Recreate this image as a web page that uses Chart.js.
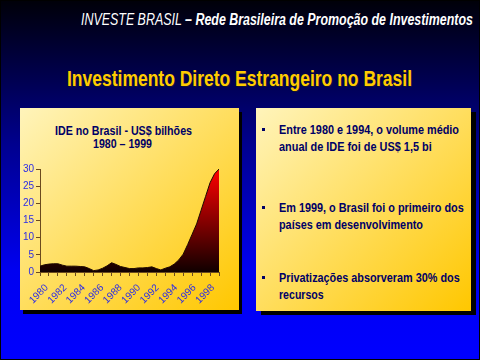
<!DOCTYPE html>
<html><head><meta charset="utf-8">
<script src="https://cdn.jsdelivr.net/npm/chart.js@4.4.1/dist/chart.umd.min.js"></script>
<style>
html,body{margin:0;padding:0;background:#000;}
#slide{position:absolute;left:0;top:0;width:480px;height:360px;overflow:hidden;
 background:linear-gradient(to bottom,#000008 0%,#000050 22%,#00008e 40%,#0000f0 75%,#0000ff 100%);}
#frame{position:absolute;left:0;top:0;width:480px;height:360px;box-sizing:border-box;border:1px solid #000;pointer-events:none;}
.t{position:absolute;white-space:nowrap;line-height:1;transform-origin:0 0;}
.panel{position:absolute;background:linear-gradient(to bottom right,#fff4bb,#ffc700);}
.bt{font-family:'Liberation Sans Narrow','Liberation Sans',Arial,sans-serif;font-weight:bold;font-size:13.5px;color:#000066;}
.bl{position:absolute;width:3px;height:3px;background:#000066;}
</style></head><body>
<div id="slide">
 <div class="t fit" data-w="392" style="left:81px;top:12px;font-family:'Liberation Sans',Arial,sans-serif;font-style:italic;font-size:16px;color:#fff">INVESTE BRASIL <b>– Rede Brasileira de Promoção de Investimentos</b></div>
 <div class="t fit" data-w="345" style="left:67px;top:68.5px;font-family:'Liberation Sans Narrow','Liberation Sans',Arial,sans-serif;font-weight:bold;font-size:21.5px;color:#ffcc00;text-shadow:1px 1px 0 #151530">Investimento Direto Estrangeiro no Brasil</div>

 <div class="panel" style="left:20px;top:108px;width:219px;height:202px;box-shadow:3px 4px 0 #000"></div>
 <div class="panel" style="left:256px;top:108px;width:215px;height:203px;box-shadow:5px 4px 0 #000"></div>

 <div class="t fit bt" data-w="137" data-cx="123.3" style="top:124.5px;font-size:12.5px;font-family:'Liberation Sans',Arial,sans-serif">IDE no Brasil - US$ bilhões</div>
 <div class="t fit bt" data-w="59" data-cx="122.2" style="top:137.8px;font-size:12.5px;font-family:'Liberation Sans',Arial,sans-serif">1980 – 1999</div>

 <canvas id="c" width="219" height="202" style="position:absolute;left:20px;top:108px;"></canvas>

 <div class="bl" style="left:262px;top:128px"></div>
 <div class="t fit bt" data-w="180" style="left:279px;top:123px">Entre 1980 e 1994, o volume médio</div>
 <div class="t fit bt" data-w="152.7" style="left:279px;top:139.7px">anual de IDE foi de US$ 1,5 bi</div>
 <div class="bl" style="left:262px;top:206px"></div>
 <div class="t fit bt" data-w="184.7" style="left:279px;top:201px">Em 1999, o Brasil foi o primeiro dos</div>
 <div class="t fit bt" data-w="144" style="left:279px;top:218px">países em desenvolvimento</div>
 <div class="bl" style="left:262px;top:276px"></div>
 <div class="t fit bt" data-w="180.7" style="left:279px;top:271px">Privatizações absorveram 30% dos</div>
 <div class="t fit bt" data-w="44.7" style="left:279px;top:288px">recursos</div>
</div>
<div id="frame"></div>
<script>
const years = [1980,1980.5,1981,1981.5,1982,1982.5,1983,1983.5,1984,1984.5,1985,1985.5,1986,1986.5,1987,1987.5,1988,1988.5,1989,1989.5,1990,1990.5,1991,1991.5,1992,1992.5,1993,1993.5,1994,1994.5,1995,1995.5,1996,1996.5,1997,1997.5,1998,1998.5,1999,1999.5,2000];
const ideValues = [1.7,2.1,2.3,2.4,2.4,2.0,1.7,1.7,1.7,1.6,1.5,1.0,0.4,0.6,1.1,1.8,2.7,2.2,1.6,1.3,1.0,1.0,1.2,1.2,1.3,1.5,1.0,0.6,1.1,1.5,2.3,3.5,5.2,8.0,11.0,14.0,18.0,22.0,26.0,28.6,30.0];
const tickYears = [1980,1981,1982,1983,1984,1985,1986,1987,1988,1989,1990,1991,1992,1993,1994,1995,1996,1997,1998,1999,2000];
const labelYears = [1980,1982,1984,1986,1988,1990,1992,1994,1996,1998];
const yTicks = [0,5,10,15,20,25,30];

document.querySelectorAll('.fit').forEach(el=>{
  const w = el.getBoundingClientRect().width;
  const target = +el.dataset.w;
  el.style.transform = 'scaleX(' + (target / w) + ')';
  if (el.dataset.cx) el.style.left = (+el.dataset.cx - target / 2) + 'px';
});

const axisBrown = '#6b4a1e';
const tickBlue = '#2d2de6';
new Chart(document.getElementById('c'), {
  type: 'line',
  data: {
    datasets: [{
      label: 'IDE no Brasil - US$ bilhões',
      data: years.map((x, i) => ({x: x, y: ideValues[i]})),
      fill: 'origin',
      backgroundColor: (c) => {
        const a = c.chart.chartArea;
        if (!a) return '#800000';
        const g = c.chart.ctx.createLinearGradient(0, a.bottom, 0, a.top);
        g.addColorStop(0, '#100000');
        g.addColorStop(1, '#ff0000');
        return g;
      },
      borderColor: '#1e0800',
      borderWidth: 1,
      pointRadius: 0,
      tension: 0
    }]
  },
  options: {
    responsive: false,
    devicePixelRatio: 1,
    animation: false,
    layout: {padding: {left: 0, right: 20, top: 61, bottom: 0}},
    plugins: {legend: {display: false}, tooltip: {enabled: false}, title: {display: false}},
    scales: {
      x: {
        type: 'linear', position: 'bottom', min: 1980, max: 2000, weight: 0,
        afterBuildTicks: (s) => { s.ticks = tickYears.map(v => ({value: v})); },
        ticks: {display: false, autoSkip: false},
        grid: {drawOnChartArea: false, drawTicks: true, tickLength: 4, color: axisBrown},
        border: {color: axisBrown, width: 1},
        afterFit: (s) => { s.height = 4; }
      },
      xl: {
        type: 'linear', position: 'bottom', min: 1979.275, max: 1998.65, weight: 1,
        afterBuildTicks: (s) => { s.ticks = labelYears.map(v => ({value: v})); },
        ticks: {autoSkip: false, minRotation: 45, maxRotation: 45, padding: 6, color: tickBlue,
          font: {family: "'Liberation Sans', Arial, sans-serif", size: 10},
          callback: (v) => String(v)},
        grid: {display: false, drawTicks: false},
        border: {display: false},
        afterFit: (s) => { s.height = 34; }
      },
      y: {
        min: 0, max: 30,
        afterBuildTicks: (s) => { s.ticks = yTicks.map(v => ({value: v})); },
        ticks: {color: tickBlue, padding: 2, font: {family: "'Liberation Sans', Arial, sans-serif", size: 10}},
        grid: {drawOnChartArea: false, tickLength: 4, color: axisBrown},
        border: {color: axisBrown, width: 1},
        afterFit: (s) => { s.width = 20; }
      }
    }
  }
});
</script>
</body></html>
